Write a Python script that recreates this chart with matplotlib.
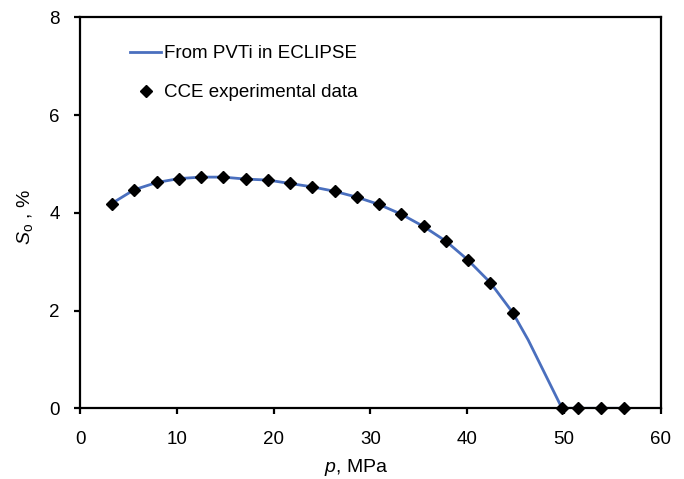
import matplotlib
matplotlib.use('Agg')
import matplotlib.pyplot as plt

# CCE measurements: pressure (MPa) and oil saturation (%)
p_cce = [3.27, 5.58, 7.92, 10.23, 12.5, 14.8, 17.1, 19.4, 21.7, 24.0, 26.3, 28.6,
         30.9, 33.2, 35.5, 37.8, 40.05, 42.4, 44.7, 49.8, 51.5, 53.8, 56.2]
so_cce = [4.19, 4.47, 4.62, 4.70, 4.73, 4.73, 4.69, 4.67, 4.60, 4.53, 4.44, 4.32,
          4.17, 3.97, 3.72, 3.42, 3.04, 2.57, 1.96, 0.0, 0.0, 0.0, 0.0]

# PVTi simulation curve
p_pvti = [3.27, 5.58, 7.92, 10.23, 12.5, 14.8, 17.1, 19.4, 21.7, 24.0, 26.3, 28.6,
          30.9, 33.2, 35.5, 37.8, 40.05, 42.4, 44.7, 46.3, 48.0, 49.8, 51.5, 53.8, 56.2]
so_pvti = [4.19, 4.47, 4.62, 4.70, 4.73, 4.73, 4.69, 4.67, 4.60, 4.53, 4.44, 4.32,
           4.17, 3.97, 3.72, 3.42, 3.04, 2.57, 1.96, 1.40, 0.72, 0.0, 0.0, 0.0, 0.0]

x_ticks = [0, 10, 20, 30, 40, 50, 60]
y_ticks = [0, 2, 4, 6, 8]

plt.rcParams['font.family'] = ['Liberation Sans', 'DejaVu Sans']
plt.rcParams['mathtext.fontset'] = 'custom'
plt.rcParams['mathtext.rm'] = 'Liberation Sans'
plt.rcParams['mathtext.it'] = 'Liberation Sans:italic'

fig = plt.figure(figsize=(6.84, 4.79), dpi=100)
ax = fig.add_axes([0.117, 0.1476, 0.849, 0.8163])

ax.plot(p_pvti, so_pvti, color='#4a6fbe', linewidth=2.0, label='From PVTi in ECLIPSE', zorder=2)
ax.plot(p_cce, so_cce, linestyle='none', marker='D', markersize=5.8, color='black',
        label='CCE experimental data', zorder=3, clip_on=False)

ax.set_xlim(0, 60)
ax.set_ylim(0, 8)
ax.set_xticks(x_ticks)
ax.set_yticks(y_ticks)
for s in ax.spines.values():
    s.set_linewidth(1.6)
ax.tick_params(direction='out', length=4.5, width=1.6, labelsize=13.5)
ax.tick_params(axis='x', pad=12)
ax.tick_params(axis='y', pad=10)

ax.set_xlabel('$p$, MPa', fontsize=14)
ax.set_ylabel(r'$S_{\mathrm{o}}$ , %', fontsize=14)
ax.xaxis.set_label_coords(0.476, -0.125)
ax.yaxis.set_label_coords(-0.078, 0.489)

ax.legend(loc='upper left', bbox_to_anchor=(0.066, 0.957), frameon=False, fontsize=13.5,
          handlelength=1.7, handletextpad=0.15, labelspacing=1.15, numpoints=1,
          borderaxespad=0.2)

fig.savefig('out.png', dpi=100)
